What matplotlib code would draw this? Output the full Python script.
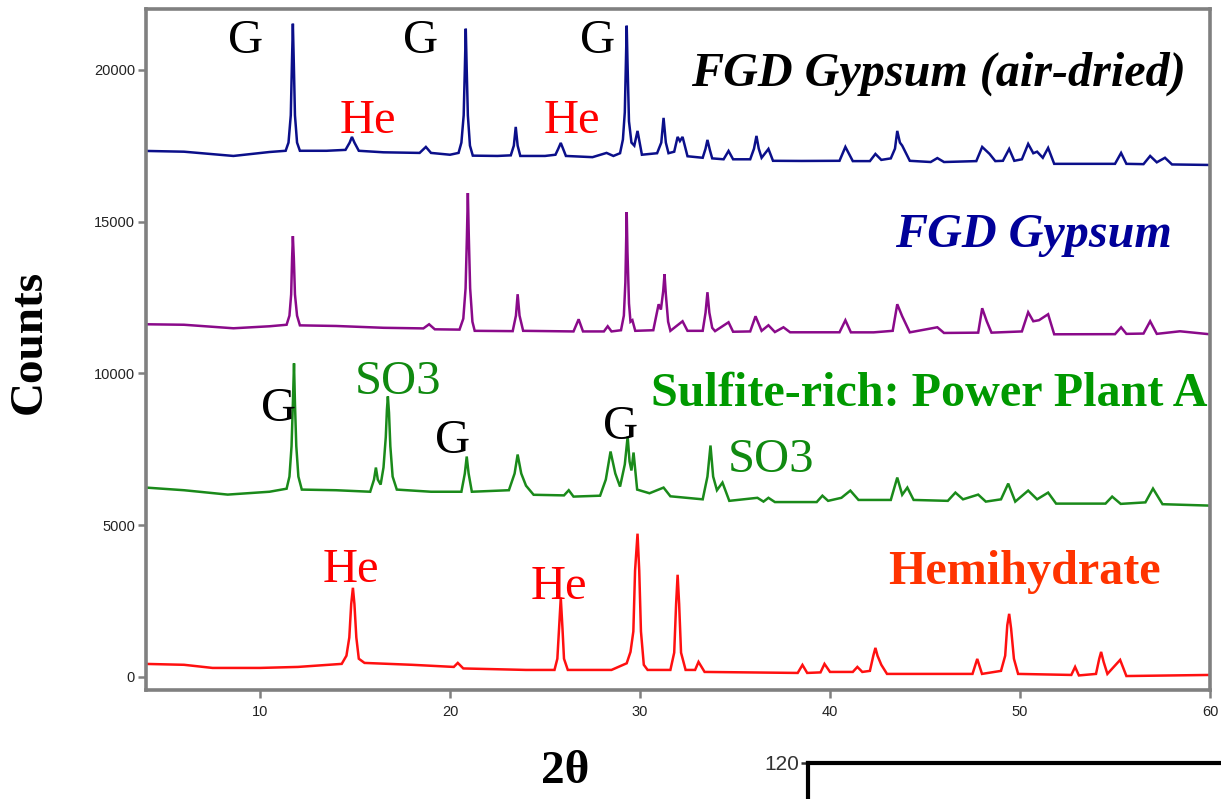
import matplotlib
matplotlib.use("Agg")
import matplotlib.pyplot as plt

air_dried = [
    (4.0, 17325), (6.0, 17300), (8.6, 17160), (10.5, 17290), (11.35, 17330),
    (11.5, 17600), (11.62, 18500), (11.68, 20200), (11.73, 21516), (11.78, 20200),
    (11.84, 18500), (11.95, 17600), (12.1, 17330), (13.5, 17330), (14.5, 17360),
    (14.72, 17600), (14.84, 17787), (14.97, 17600), (15.2, 17330),
    (16.5, 17280), (18.4, 17260), (18.73, 17457), (19.0, 17260), (20.0, 17200),
    (20.45, 17260), (20.6, 17600), (20.72, 18500), (20.78, 20000), (20.83, 21351),
    (20.88, 20000), (20.94, 18500), (21.05, 17500), (21.2, 17170), (22.5, 17160),
    (23.2, 17180), (23.36, 17500), (23.46, 18117), (23.56, 17500), (23.7, 17160),
    (25.0, 17160), (25.55, 17200), (25.7, 17400), (25.83, 17589), (25.95, 17400),
    (26.1, 17160), (27.5, 17120), (28.24, 17260), (28.6, 17160), (28.95, 17250),
    (29.1, 17700), (29.2, 18600), (29.26, 20300), (29.3, 21450), (29.34, 20300),
    (29.42, 18300), (29.55, 17600), (29.7, 17500), (29.87, 17985), (30.1, 17200),
    (30.9, 17250), (31.12, 17600), (31.24, 18414), (31.36, 17600), (31.5, 17250),
    (31.8, 17300), (31.98, 17787), (32.1, 17650), (32.24, 17787), (32.5, 17150),
    (33.3, 17100), (33.45, 17400), (33.55, 17688), (33.68, 17350), (33.8, 17080),
    (34.4, 17050), (34.66, 17325), (34.9, 17050), (35.8, 17050), (36.0, 17400),
    (36.13, 17820), (36.25, 17400), (36.4, 17100), (36.76, 17391), (37.0, 17000),
    (38.5, 16995), (40.5, 17000), (40.81, 17457), (41.2, 16990), (42.1, 16990),
    (42.39, 17226), (42.7, 17030), (43.2, 17080), (43.42, 17400), (43.54, 17985),
    (43.68, 17600), (43.8, 17500), (44.2, 17000), (45.3, 16960), (45.65, 17090),
    (46.0, 16960), (47.7, 16990), (48.01, 17457), (48.4, 17226), (48.7, 16990),
    (49.1, 17000), (49.43, 17391), (49.7, 17000), (50.1, 17050), (50.43, 17556),
    (50.7, 17250), (50.9, 17300), (51.2, 17100), (51.48, 17424), (51.8, 16900),
    (53.0, 16900), (55.0, 16900), (55.32, 17259), (55.6, 16900), (56.5, 16890),
    (56.85, 17160), (57.2, 16950), (57.63, 17100), (58.0, 16880), (60.0, 16863),
]

fgd_gypsum = [
    (4.0, 11616), (6.0, 11600), (8.6, 11484), (10.5, 11550), (11.4, 11600),
    (11.55, 11900), (11.64, 12600), (11.69, 13800), (11.73, 14520), (11.78, 13800),
    (11.84, 12600), (11.95, 11900), (12.1, 11580), (14.0, 11560), (16.5, 11500),
    (18.6, 11480), (18.9, 11616), (19.2, 11450), (20.5, 11440), (20.7, 11800),
    (20.82, 12800), (20.89, 14500), (20.94, 15939), (20.99, 14500), (21.06, 12800),
    (21.18, 11700), (21.3, 11400), (23.3, 11390), (23.47, 11900), (23.56, 12606),
    (23.66, 11900), (23.85, 11400), (26.5, 11380), (26.77, 11781), (27.0, 11380),
    (28.1, 11380), (28.3, 11550), (28.5, 11380), (29.0, 11420), (29.15, 11900),
    (29.23, 13000), (29.27, 14300), (29.3, 15312), (29.34, 14000), (29.42, 12300),
    (29.5, 11700), (29.6, 11750), (29.75, 11400), (30.7, 11420), (30.98, 12276),
    (31.1, 12100), (31.22, 12700), (31.29, 13266), (31.36, 12600), (31.48, 11700),
    (31.6, 11400), (32.24, 11715), (32.5, 11400), (33.3, 11400), (33.45, 12000),
    (33.55, 12672), (33.65, 12000), (33.8, 11500), (33.95, 11390), (34.66, 11682),
    (34.9, 11370), (35.8, 11380), (36.08, 11880), (36.4, 11400), (36.76, 11583),
    (37.1, 11360), (37.55, 11517), (37.9, 11352), (40.5, 11352), (40.81, 11748),
    (41.1, 11350), (42.3, 11350), (43.3, 11400), (43.54, 12276), (43.8, 11880),
    (44.2, 11350), (45.65, 11517), (46.0, 11330), (47.8, 11340), (48.01, 12144),
    (48.25, 11715), (48.5, 11340), (50.1, 11380), (50.43, 12012), (50.7, 11715),
    (51.0, 11750), (51.48, 11946), (51.8, 11286), (55.0, 11290), (55.32, 11517),
    (55.6, 11300), (56.5, 11310), (56.85, 11715), (57.2, 11300), (58.42, 11385),
    (60.0, 11286),
]

sulfite_rich = [
    (4.0, 6237), (6.0, 6150), (8.3, 6006), (10.5, 6100), (11.4, 6200),
    (11.55, 6600), (11.66, 7600), (11.73, 9000), (11.79, 10329), (11.84, 9000),
    (11.91, 7600), (12.02, 6600), (12.2, 6171), (14.0, 6150), (15.8, 6100),
    (16.0, 6500), (16.1, 6897), (16.2, 6500), (16.35, 6336), (16.5, 6900),
    (16.62, 7900), (16.68, 8800), (16.73, 9240), (16.79, 8700), (16.86, 7600),
    (16.98, 6600), (17.2, 6171), (19.0, 6100), (20.6, 6100), (20.78, 6700),
    (20.88, 7260), (20.98, 6700), (21.15, 6100), (23.1, 6150), (23.4, 6700),
    (23.56, 7326), (23.75, 6700), (24.0, 6300), (24.4, 6000), (26.0, 5980),
    (26.25, 6150), (26.5, 5940), (27.9, 5970), (28.2, 6500), (28.45, 7425),
    (28.7, 6700), (28.95, 6270), (29.2, 7000), (29.35, 7920), (29.45, 7100),
    (29.55, 6800), (29.66, 7392), (29.85, 6171), (30.5, 6050), (31.24, 6237),
    (31.6, 5950), (33.3, 5850), (33.55, 6600), (33.71, 7623), (33.85, 6600),
    (34.05, 6150), (34.34, 6402), (34.7, 5800), (36.18, 5900), (36.5, 5775),
    (36.76, 5900), (37.1, 5760), (39.3, 5760), (39.6, 5970), (39.9, 5800),
    (40.6, 5900), (41.07, 6138), (41.5, 5830), (43.2, 5830), (43.54, 6567),
    (43.8, 6000), (44.07, 6237), (44.4, 5830), (46.2, 5800), (46.6, 6072),
    (47.0, 5850), (47.8, 6006), (48.2, 5775), (49.0, 5850), (49.38, 6369),
    (49.75, 5775), (50.43, 6138), (50.9, 5850), (51.48, 6072), (51.9, 5709),
    (54.5, 5709), (54.85, 5940), (55.3, 5700), (56.6, 5750), (57.0, 6204),
    (57.5, 5690), (60.0, 5643),
]

hemihydrate = [
    (4.0, 429), (6.0, 400), (7.5, 297), (10.0, 297), (12.0, 330),
    (14.3, 430), (14.55, 700), (14.7, 1300), (14.8, 2400), (14.89, 2937),
    (14.97, 2400), (15.07, 1300), (15.2, 600), (15.5, 462), (18.0, 400),
    (20.2, 330), (20.41, 462), (20.7, 280), (24.0, 231), (25.5, 231),
    (25.65, 600), (25.74, 1600), (25.83, 2607), (25.92, 1600), (26.0, 600),
    (26.2, 231), (28.5, 231), (29.3, 450), (29.5, 825), (29.65, 1500),
    (29.74, 3500), (29.87, 4719), (29.96, 3500), (30.05, 1500), (30.2, 400),
    (30.4, 231), (31.6, 231), (31.8, 800), (31.9, 2400), (31.98, 3366),
    (32.06, 2400), (32.16, 800), (32.4, 231), (32.9, 231), (33.08, 495),
    (33.4, 165), (38.3, 132), (38.55, 396), (38.8, 132), (39.5, 150),
    (39.71, 429), (40.0, 165), (41.2, 165), (41.44, 330), (41.7, 165),
    (42.1, 200), (42.28, 700), (42.39, 957), (42.5, 700), (42.7, 400),
    (43.0, 100), (47.5, 100), (47.75, 594), (48.0, 100), (49.0, 200),
    (49.22, 700), (49.33, 1700), (49.43, 2079), (49.53, 1600), (49.68, 600),
    (49.9, 100), (52.7, 66), (52.9, 330), (53.1, 50), (54.0, 100),
    (54.17, 600), (54.27, 825), (54.4, 500), (54.6, 100), (55.27, 561),
    (55.6, 30), (60.0, 66),
]

trace_colors = ["#0b0f8a", "#8a0a8a", "#1a8a1a", "#ff1010"]

# phase markers: (2theta, counts, label, colour)
markers = [
    (9.26, 20950, "G", "black"), (18.46, 20950, "G", "black"), (27.77, 20950, "G", "black"),
    (15.68, 18300, "He", "#ff0000"), (26.4, 18300, "He", "#ff0000"),
    (11.0, 8830, "G", "black"), (17.26, 9720, "SO3", "#108a10"),
    (20.15, 7770, "G", "black"), (28.98, 8230, "G", "black"),
    (36.87, 7140, "SO3", "#108a10"),
    (14.78, 3510, "He", "#ff0000"), (25.72, 2950, "He", "#ff0000"),
]

# sample names, right aligned
sample_labels = [
    (58.7, 19880, "FGD Gypsum (air-dried)", "black", "italic"),
    (58.0, 14540, "FGD Gypsum", "#000099", "italic"),
    (59.85, 9320, "Sulfite-rich: Power Plant A", "#009900", "normal"),
    (57.4, 3450, "Hemihydrate", "#ff3300", "normal"),
]

serif = ["Liberation Serif", "DejaVu Serif"]
sans = ["Liberation Sans", "DejaVu Sans"]

fig = plt.figure(figsize=(12.21, 7.99), dpi=100)
ax = fig.add_axes([146 / 1221, 1 - 690 / 799, (1210 - 146) / 1221, (690 - 9) / 799])

for trace, color in zip([air_dried, fgd_gypsum, sulfite_rich, hemihydrate], trace_colors):
    xs = [p[0] for p in trace]
    ys = [p[1] for p in trace]
    ax.plot(xs, ys, color=color, lw=1.8, solid_joinstyle="miter")

for x, y, label, color in markers:
    ax.text(x, y, label, color=color, fontsize=35, family=serif, ha="center", va="center")

for x, y, label, color, style in sample_labels:
    ax.text(x, y, label, color=color, fontsize=34.7, family=serif, fontweight="bold",
            style=style, ha="right", va="center")

ax.set_xlim(4, 60)
ax.set_ylim(-430, 22000)
ax.set_xticks([10, 20, 30, 40, 50, 60])
ax.set_yticks([0, 5000, 10000, 15000, 20000])
for spine in ax.spines.values():
    spine.set_color("#808080")
    spine.set_linewidth(2.6)
ax.tick_params(direction="out", length=6, width=1.8, color="#808080", pad=2)
ax.tick_params(axis="x", pad=5)
for lab in ax.get_xticklabels() + ax.get_yticklabels():
    lab.set_family(sans)
    lab.set_fontsize(10.5)
    lab.set_color("#222222")

fig.text(30 / 1221, 1 - 342 / 799, "Counts", rotation=90, fontsize=34, family=serif,
         fontweight="bold", ha="center", va="center")
fig.text(565 / 1221, 1 - 772 / 799, "2\u03b8", fontsize=34, family=serif,
         fontweight="bold", ha="center", va="center")

# the next panel starts just below this one
ax2 = fig.add_axes([808 / 1221, (799 - 763) / 799 - 1.0, 0.5, 1.0])
ax2.set_xlim(0, 1)
ax2.set_ylim(0, 120)
ax2.set_xticks([])
ax2.set_yticks([120])
for spine in ax2.spines.values():
    spine.set_color("black")
    spine.set_linewidth(3)
ax2.tick_params(axis="y", direction="out", length=5, width=1.8, color="#333333", pad=1)
for lab in ax2.get_yticklabels():
    lab.set_family(sans)
    lab.set_fontsize(15)
    lab.set_color("#333333")

fig.savefig("out.png", dpi=100)
